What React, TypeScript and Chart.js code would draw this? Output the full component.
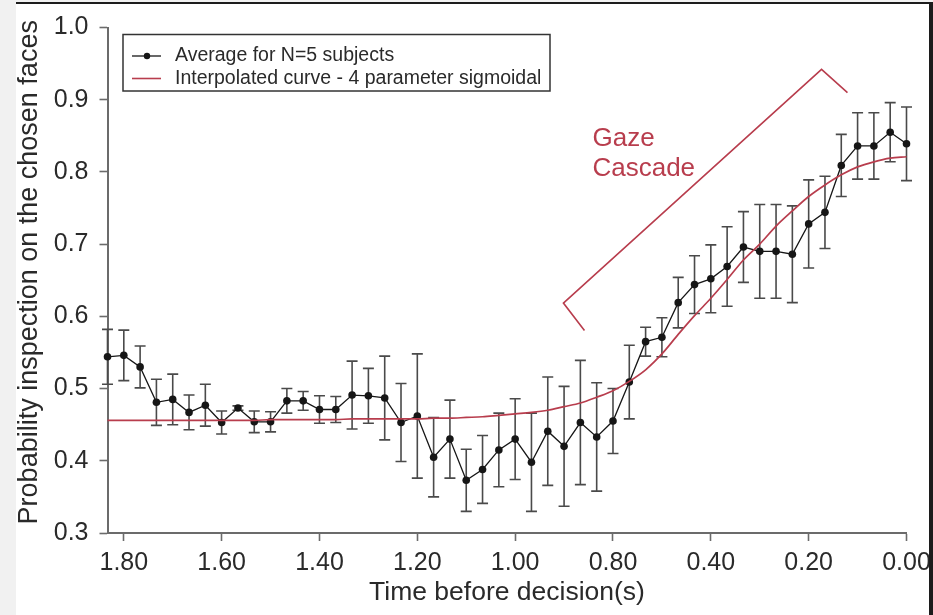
import React, { useEffect, useRef } from 'react';
import { Chart, registerables } from 'chart.js';

Chart.register(...registerables);

// Mean probability of looking at the finally chosen face, one sample per video frame
const meanProb = [
  0.544, 0.546, 0.530, 0.481, 0.485, 0.467, 0.477, 0.453, 0.473, 0.454,
  0.454, 0.483, 0.483, 0.471, 0.471, 0.491, 0.490, 0.487, 0.453, 0.462,
  0.405, 0.430, 0.373, 0.388, 0.415, 0.430, 0.398, 0.441, 0.420, 0.453,
  0.433, 0.455, 0.509, 0.565, 0.571, 0.619, 0.644, 0.652, 0.669, 0.696,
  0.690, 0.690, 0.686, 0.728, 0.744, 0.809, 0.836, 0.836, 0.855, 0.839,
];

// Standard error of the mean for each sample
const semProb = [
  0.038, 0.035, 0.029, 0.032, 0.035, 0.024, 0.029, 0.016, 0.003, 0.015,
  0.014, 0.017, 0.013, 0.019, 0.018, 0.047, 0.038, 0.058, 0.054, 0.086,
  0.055, 0.054, 0.043, 0.047, 0.051, 0.056, 0.068, 0.075, 0.083, 0.086,
  0.075, 0.045, 0.051, 0.020, 0.027, 0.035, 0.040, 0.047, 0.055, 0.049,
  0.065, 0.065, 0.067, 0.061, 0.050, 0.043, 0.046, 0.046, 0.041, 0.051,
];

// Fitted 4-parameter sigmoid, sampled at the same frames
const sigmoidFit = [
  0.456, 0.456, 0.456, 0.456, 0.456, 0.456, 0.456, 0.456, 0.456, 0.456,
  0.457, 0.457, 0.457, 0.457, 0.457, 0.458, 0.458, 0.458, 0.458, 0.458,
  0.459, 0.459, 0.460, 0.461, 0.463, 0.465, 0.467, 0.470, 0.475, 0.480,
  0.488, 0.497, 0.510, 0.526, 0.548, 0.575, 0.601, 0.625, 0.651, 0.678,
  0.700, 0.725, 0.746, 0.766, 0.782, 0.796, 0.807, 0.814, 0.819, 0.821,
];

// Time axis: tick positions (frame index) and their printed labels
const tickFrames = [1, 7, 13, 19, 25, 31, 37, 43, 49];
const tickLabels = ['1.80', '1.60', '1.40', '1.20', '1.00', '0.80', '0.40', '0.20', '0.00'];

// "Gaze cascade" bracket vertices (frame, probability)
const bracketFrames = [29.25, 27.96, 43.79, 45.38];
const bracketProbs = [0.5805, 0.6184, 0.942, 0.9098];

// Annotation text lines and their anchor (frame, baseline probability)
const cascadeText = ['Gaze', 'Cascade'];
const cascadeFrame = 29.74;
const cascadeBaselines = [0.836, 0.795];

const legendLabels = ['Average for N=5 subjects', 'Interpolated curve - 4 parameter sigmoidal'];
const yTitle = 'Probability inspection on the chosen faces';
const xTitle = 'Time before decision(s)';

const RED = '#b83d4d';
const DARK = '#161616';
const AXIS = '#6b6b6b';
const TEXT = '#2a2a2a';
const FONT = "'Liberation Sans', Arial, Helvetica, sans-serif";

const frameOf = (_: number, i: number) => i;

const errorBars = {
  id: 'errorBars',
  beforeDatasetsDraw(chart: any) {
    const { ctx, scales } = chart;
    const xs = scales.x;
    const ys = scales.y;
    ctx.save();
    ctx.strokeStyle = '#4a4a4a';
    ctx.lineWidth = 1.6;
    const cap = 5.5;
    meanProb.forEach((m, i) => {
      const x = xs.getPixelForValue(frameOf(m, i));
      const yTop = ys.getPixelForValue(m + semProb[i]);
      const yBot = ys.getPixelForValue(m - semProb[i]);
      ctx.beginPath();
      ctx.moveTo(x, yTop);
      ctx.lineTo(x, yBot);
      ctx.moveTo(x - cap, yTop);
      ctx.lineTo(x + cap, yTop);
      ctx.moveTo(x - cap, yBot);
      ctx.lineTo(x + cap, yBot);
      ctx.stroke();
    });
    ctx.restore();
  },
};

const overlay = {
  id: 'overlay',
  afterDraw(chart: any) {
    const { ctx, scales, chartArea } = chart;
    const xs = scales.x;
    const ys = scales.y;
    ctx.save();

    // vertical axis title
    ctx.save();
    ctx.translate(14, chartArea.top + (chartArea.bottom - chartArea.top) / 2 - 8);
    ctx.rotate(-Math.PI / 2);
    ctx.fillStyle = TEXT;
    ctx.font = `27px ${FONT}`;
    ctx.textAlign = 'center';
    ctx.textBaseline = 'middle';
    ctx.fillText(yTitle, 0, 0);
    ctx.restore();

    // annotation text
    ctx.fillStyle = RED;
    ctx.font = `26px ${FONT}`;
    ctx.textAlign = 'left';
    ctx.textBaseline = 'alphabetic';
    cascadeText.forEach((t, k) => {
      ctx.fillText(t, xs.getPixelForValue(cascadeFrame), ys.getPixelForValue(cascadeBaselines[k]));
    });

    // legend box
    const bx = chartArea.left + 15.5;
    const by = chartArea.top + 7;
    const bw = 427;
    const bh = 56.5;
    ctx.fillStyle = '#ffffff';
    ctx.fillRect(bx, by, bw, bh);
    ctx.strokeStyle = '#333333';
    ctx.lineWidth = 1.5;
    ctx.strokeRect(bx, by, bw, bh);

    const rows = [by + 21.5, by + 44];
    // row 1: mean with marker
    ctx.strokeStyle = DARK;
    ctx.lineWidth = 1.3;
    ctx.beginPath();
    ctx.moveTo(bx + 9, rows[0]);
    ctx.lineTo(bx + 38, rows[0]);
    ctx.stroke();
    ctx.fillStyle = DARK;
    ctx.beginPath();
    ctx.arc(bx + 24, rows[0], 3.2, 0, Math.PI * 2);
    ctx.fill();
    // row 2: fitted curve
    ctx.strokeStyle = RED;
    ctx.lineWidth = 1.6;
    ctx.beginPath();
    ctx.moveTo(bx + 9, rows[1]);
    ctx.lineTo(bx + 38, rows[1]);
    ctx.stroke();

    ctx.fillStyle = TEXT;
    ctx.font = `19.5px ${FONT}`;
    ctx.textBaseline = 'middle';
    legendLabels.forEach((t, k) => ctx.fillText(t, bx + 52, rows[k]));
    ctx.restore();
  },
};

export default function App() {
  const canvasRef = useRef<HTMLCanvasElement | null>(null);

  useEffect(() => {
    const canvas = canvasRef.current;
    if (!canvas) return;
    const chart = new Chart(canvas, {
      type: 'line',
      data: {
        datasets: [
          {
            label: legendLabels[1],
            data: sigmoidFit.map((y, i) => ({ x: i, y })),
            borderColor: RED,
            borderWidth: 1.7,
            pointRadius: 0,
            cubicInterpolationMode: 'monotone',
            clip: false,
          },
          {
            label: 'bracket',
            data: bracketFrames.map((x, i) => ({ x, y: bracketProbs[i] })),
            borderColor: RED,
            borderWidth: 1.6,
            pointRadius: 0,
            tension: 0,
            clip: false,
          },
          {
            label: legendLabels[0],
            data: meanProb.map((y, i) => ({ x: frameOf(y, i), y })),
            borderColor: DARK,
            borderWidth: 1.3,
            pointRadius: 3.8,
            pointBackgroundColor: DARK,
            pointBorderWidth: 0,
            tension: 0,
            clip: false,
          },
        ],
      } as any,
      options: {
        responsive: false,
        maintainAspectRatio: false,
        animation: false,
        layout: { padding: { left: 0, top: 13, right: 69.5, bottom: 0 } },
        plugins: { legend: { display: false }, tooltip: { enabled: false } },
        scales: {
          x: {
            type: 'linear',
            min: 0,
            max: 49,
            afterBuildTicks: (s: any) => {
              s.ticks = tickFrames.map((v) => ({ value: v }));
            },
            afterFit: (s: any) => {
              s.height = 82;
            },
            ticks: {
              autoSkip: false,
              maxRotation: 0,
              padding: 7.5,
              color: TEXT,
              font: { family: FONT, size: 25, lineHeight: 1.2 },
              callback: (_v: any, idx: number) => tickLabels[idx],
            },
            grid: { drawOnChartArea: false, drawTicks: true, tickLength: 8, tickWidth: 1.6, tickColor: AXIS },
            border: { display: true, color: AXIS, width: 2 },
            title: {
              display: true,
              text: xTitle,
              color: TEXT,
              font: { family: FONT, size: 26.5, lineHeight: 1.2 },
              padding: { top: 0, bottom: 6 },
            },
          },
          y: {
            type: 'linear',
            min: 0.3,
            max: 1.0,
            afterFit: (s: any) => {
              s.width = 91.5;
            },
            ticks: {
              stepSize: 0.1,
              padding: 11,
              color: TEXT,
              font: { family: FONT, size: 25, lineHeight: 1 },
              callback: (v: any) => Number(v).toFixed(1),
            },
            grid: { drawOnChartArea: false, drawTicks: true, tickLength: 8, tickWidth: 1.6, tickColor: AXIS },
            border: { display: true, color: AXIS, width: 2 },
          },
        },
      } as any,
      plugins: [errorBars, overlay],
    });
    return () => chart.destroy();
  }, []);

  return (
    <div
      style={{
        position: 'fixed',
        left: 0,
        top: 0,
        width: 933,
        height: 615,
        background: '#f1f1f1',
        overflow: 'hidden',
      }}
    >
      <div
        style={{
          position: 'absolute',
          left: 16,
          top: 2,
          width: 913,
          height: 611,
          background: '#ffffff',
          borderTop: '2px solid #1c1c1c',
          borderRight: '4px solid #1c1c1c',
          overflow: 'hidden',
        }}
      >
        <canvas
          ref={canvasRef}
          width={960}
          height={611}
          style={{ position: 'absolute', left: 0, top: 0, width: 960, height: 611 }}
        />
      </div>
    </div>
  );
}
